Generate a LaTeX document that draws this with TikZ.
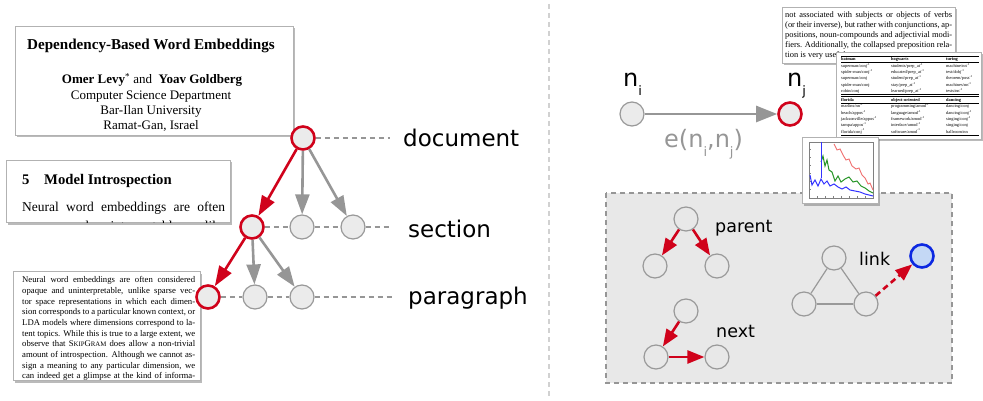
\documentclass[tikz,border=0pt]{standalone}
\usepackage{fontspec}
\setmainfont{Liberation Serif}
\newfontfamily\dv{DejaVu Sans}
\usetikzlibrary{arrows.meta,shadows}
\definecolor{myred}{RGB}{208,2,27}
\definecolor{mygray}{RGB}{150,150,150}
\definecolor{nodefill}{RGB}{235,235,235}
\definecolor{boxfill}{RGB}{232,232,232}
\definecolor{myblue}{RGB}{12,40,225}
\definecolor{lightblue}{RGB}{196,216,245}
\definecolor{plotgreen}{RGB}{40,150,40}
\definecolor{plotred}{RGB}{240,110,110}
\newcommand\jl[1]{\par\noindent\makebox[\linewidth][s]{#1}}
\newcommand\subl[1]{\raisebox{-9pt}{\fontsize{13}{13}\selectfont #1}}
\newcommand\mysc[1]{{\fontsize{6.8}{8}\selectfont #1}}
\begin{document}
\begin{tikzpicture}[x=1pt,y=-1pt,
  paper/.style={draw=black!30,line width=0.8pt,fill=white,
    drop shadow={shadow xshift=1.5pt,shadow yshift=-2.5pt,opacity=0.45,fill=black!60}},
  gnode/.style={circle,minimum size=24pt,inner sep=0pt,draw=black!40,line width=1.2pt,fill=nodefill},
  rnode/.style={gnode,minimum size=23pt,draw=myred,line width=2.6pt},
  bnode/.style={circle,minimum size=24pt,inner sep=0pt,draw=black!40,line width=1.2pt,fill=boxfill},
  garrow/.style={draw=mygray,line width=2.6pt,-{Triangle[length=20pt,width=14pt]}},
  rarrow/.style={draw=myred,line width=2.6pt,-{Triangle[length=20pt,width=14pt]}},
  sarrow/.style={draw=myred,line width=2.6pt,-{Triangle[length=17pt,width=13pt]}},
  dashline/.style={draw=mygray,line width=1.2pt,dash pattern=on 5pt off 4pt},
  lbl/.style={font=\dv\fontsize{23}{23}\selectfont,anchor=base west,inner sep=0pt},
  boxlbl/.style={font=\dv\fontsize{17.5}{18}\selectfont,anchor=base west,inner sep=0pt},
  ptext/.style={anchor=base west,inner sep=0pt},
]
\useasboundingbox (0,0) rectangle (983,401);

% divider
\draw[black!18,line width=1.3pt,dash pattern=on 5pt off 4pt] (549,4) -- (549,399);

% ---------- left papers ----------
\draw[paper] (15,26) rectangle (293,135);
\node[anchor=base,inner sep=0pt,font=\fontsize{15.1}{18}\selectfont\bfseries] (title) at (151,49.3) {Dependency-Based Word Embeddings};
\node[anchor=base,inner sep=0pt,font=\fontsize{13}{15}\selectfont] (auth) at (152,84) {\textbf{Omer Levy}\textsuperscript{*} and\ \ \textbf{Yoav Goldberg}};
\node[anchor=base,inner sep=0pt,font=\fontsize{13}{15}\selectfont] (aff1) at (151,99.3) {Computer Science Department};
\node[anchor=base,inner sep=0pt,font=\fontsize{13}{15}\selectfont] (aff2) at (151,114.3) {Bar-Ilan University};
\node[anchor=base,inner sep=0pt,font=\fontsize{13}{15}\selectfont] (aff3) at (151,129.3) {Ramat-Gan, Israel};

\draw[paper] (6,160) rectangle (230,222);
\begin{scope}
\clip (6,160) rectangle (230,222);
\node[ptext,font=\fontsize{14.7}{17}\selectfont\bfseries] (sech) at (22,184.3) {\makebox[22pt][l]{5}Model Introspection};
\node[ptext,font=\fontsize{13.5}{16}\selectfont] (secb1) at (22,211.7) {\makebox[203pt][s]{Neural word embeddings are often}};
\node[ptext,font=\fontsize{13.5}{16}\selectfont] (secb2) at (22,230.5) {\makebox[203pt][s]{opaque and uninterpretable, unlike}};
\end{scope}

\draw[paper] (13,271) rectangle (200,380);
\begin{scope}
\clip (13,271) rectangle (200,380);
\node[ptext,font=\fontsize{8.7}{10.7}\selectfont] (partext) at (22,282.7) {\parbox[t]{173pt}{%
\jl{Neural word embeddings are often considered}%
\jl{opaque and uninterpretable, unlike sparse vec-}%
\jl{tor space representations in which each dimen-}%
\jl{sion corresponds to a particular known context, or}%
\jl{LDA models where dimensions correspond to la-}%
\jl{tent topics. While this is true to a large extent, we}%
\jl{observe that S\mysc{KIP}G\mysc{RAM} does allow a non-trivial}%
\jl{amount of introspection. Although we cannot as-}%
\jl{sign a meaning to any particular dimension, we}%
\jl{can indeed get a glimpse at the kind of informa-}}};
\end{scope}

% ---------- tree ----------
\node[rnode] (doc) at (303,138) {};
\node[rnode] (s1) at (252,227) {};
\node[gnode] (s2) at (302,227) {};
\node[gnode] (s3) at (353,227) {};
\node[rnode] (p1) at (208,297) {};
\node[gnode] (p2) at (255,297) {};
\node[gnode] (p3) at (302,297) {};
\coordinate (ed) at (390,138);
\coordinate (es) at (392,227);
\coordinate (ep) at (392,297);
\draw[dashline] (doc) -- (ed);
\draw[dashline] (s1) -- (s2);
\draw[dashline] (s2) -- (s3);
\draw[dashline] (s3) -- (es);
\draw[dashline] (p1) -- (p2);
\draw[dashline] (p2) -- (p3);
\draw[dashline] (p3) -- (ep);
\draw[garrow] (doc) -- (s2);
\draw[garrow] (doc) -- (s3);
\draw[rarrow] (doc) -- (s1);
\draw[garrow] (s1) -- (p2);
\draw[garrow] (s1) -- (p3);
\draw[rarrow] (s1) -- (p1);
\node[lbl] (ldoc) at (403,147) {document};
\node[lbl] (lsec) at (408,237) {section};
\node[lbl] (lpar) at (408,304) {paragraph};

% ---------- right: dashed box ----------
\draw[fill=boxfill,draw=mygray,line width=1.2pt,dash pattern=on 5pt off 4pt] (606,193) rectangle (952,383);
\node[bnode] (pa) at (686,219) {};
\node[bnode] (pl) at (655,266) {};
\node[bnode] (pr) at (717,266) {};
\draw[sarrow] (pa) -- (pl);
\draw[sarrow] (pa) -- (pr);
\node[boxlbl] (lparent) at (715,233) {parent};
\node[bnode] (na) at (686,311) {};
\node[bnode] (nl) at (656,357) {};
\node[bnode] (nr) at (717,357) {};
\draw[sarrow] (na) -- (nl);
\draw[sarrow] (nl) -- (nr);
\node[boxlbl] (lnext) at (716,337) {next};
\node[bnode] (lt) at (834,258) {};
\node[bnode] (ll) at (804,304) {};
\node[bnode] (lr) at (866,304) {};
\draw[black!40,line width=1.2pt] (lt) -- (ll);
\draw[black!40,line width=1.2pt] (ll) -- (lr);
\draw[black!40,line width=1.2pt] (lr) -- (lt);
\node[circle,minimum size=23pt,inner sep=0pt,draw=myblue,line width=2.6pt,fill=lightblue] (bl) at (922,256) {};
\draw[sarrow,dash pattern=on 6pt off 4pt] (lr) -- (bl);
\node[boxlbl] (llink) at (859,265) {link};

% ---------- right: edge ----------
\node[gnode] (ni) at (632,114) {};
\node[rnode] (nj) at (790,114) {};
\draw[draw=mygray,line width=2.6pt,-{Triangle[length=21pt,width=16pt]}] (ni) -- (nj);
\node[lbl,font=\dv\fontsize{24}{24}\selectfont] (lni) at (623,87) {n\subl{i}};
\node[lbl,font=\dv\fontsize{24}{24}\selectfont] (lnj) at (787,87) {n\subl{j}};
\node[lbl,font=\dv\fontsize{24}{24}\selectfont,text=mygray] (le) at (664,148) {e(n\subl{i},n\subl{j})};

% ---------- right: paper snippets ----------
\draw[paper] (782,7) rectangle (955,63);
\begin{scope}
\clip (782,7) rectangle (955,63);
\node[ptext,font=\fontsize{8.4}{10.1}\selectfont] (snip) at (785,17.5) {\parbox[t]{167pt}{%
\jl{not associated with subjects or objects of verbs}%
\jl{(or their inverse), but rather with conjunctions, ap-}%
\jl{positions, noun-compounds and adjectivial modi-}%
\jl{fiers. Additionally, the collapsed preposition rela-}%
\par\noindent tion is very useful}};
\end{scope}

\draw[paper] (836,52) rectangle (981,139);
\node[anchor=north west,inner sep=0pt,font=\fontsize{4.4}{6.3}\selectfont] (tab) at (841,55.5) {%
\setlength\tabcolsep{0pt}%
\begin{tabular}{p{50pt}p{55pt}p{33pt}}\hline
\textbf{batman} & \textbf{hogwarts} & \textbf{turing}\\\hline
superman/conj\textsuperscript{-1} & students/prep\_at\textsuperscript{-1} & machine/nn\textsuperscript{-1}\\
spider-man/conj\textsuperscript{-1} & educated/prep\_at\textsuperscript{-1} & test/dobj\textsuperscript{-1}\\
superman/conj & student/prep\_at\textsuperscript{-1} & theorem/poss\textsuperscript{-1}\\
spider-man/conj & stay/prep\_at\textsuperscript{-1} & machines/nn\textsuperscript{-1}\\
robin/conj & learned/prep\_at\textsuperscript{-1} & tests/nn\textsuperscript{-1}\\\hline\hline
\textbf{florida} & \textbf{object-oriented} & \textbf{dancing}\\\hline
marlins/nn\textsuperscript{-1} & programming/amod\textsuperscript{-1} & dancing/conj\\
beach/appos\textsuperscript{-1} & language/amod\textsuperscript{-1} & dancing/conj\textsuperscript{-1}\\
jacksonville/appos\textsuperscript{-1} & framework/amod\textsuperscript{-1} & singing/conj\textsuperscript{-1}\\
tampa/appos\textsuperscript{-1} & interface/amod\textsuperscript{-1} & singing/conj\\
florida/conj\textsuperscript{-1} & software/amod\textsuperscript{-1} & ballroom/nn\\\hline
\end{tabular}};

% chart
\draw[paper] (802,137) rectangle (878,203);
\draw[black!50,line width=0.5pt] (809,142) rectangle (873,198);
\foreach \yy in {149,157,165,173,181,189} \draw[black!50,line width=0.4pt] (809,\yy) -- (811,\yy);
\foreach \xx in {817,825,833,841,849,857,865} \draw[black!50,line width=0.4pt] (\xx,198) -- (\xx,196);
\draw[plotred,line width=0.9pt] (834,144) -- (837,150) -- (840,149) -- (843,155) -- (846,160) -- (849,159) -- (852,166) -- (856,169) -- (859,168) -- (862,175) -- (865,178) -- (868,184) -- (870,183) -- (873,190);
\draw[plotgreen,line width=1pt] (821,162) -- (823,156) -- (825,166) -- (827,160) -- (829,170) -- (832,172) -- (835,181) -- (838,176) -- (841,182) -- (845,179) -- (849,177) -- (853,182) -- (857,181) -- (861,186) -- (865,188) -- (869,191) -- (873,193);
\draw[blue!80,line width=1pt] (821,142) -- (821,178);
\draw[blue!80,line width=1pt] (810,175) -- (812,185) -- (815,180) -- (818,186) -- (821,179) -- (824,184) -- (827,181) -- (830,186) -- (834,184) -- (838,187) -- (842,189) -- (846,187) -- (850,190) -- (855,191) -- (860,192) -- (865,194) -- (873,196);
\end{tikzpicture}
\end{document}
